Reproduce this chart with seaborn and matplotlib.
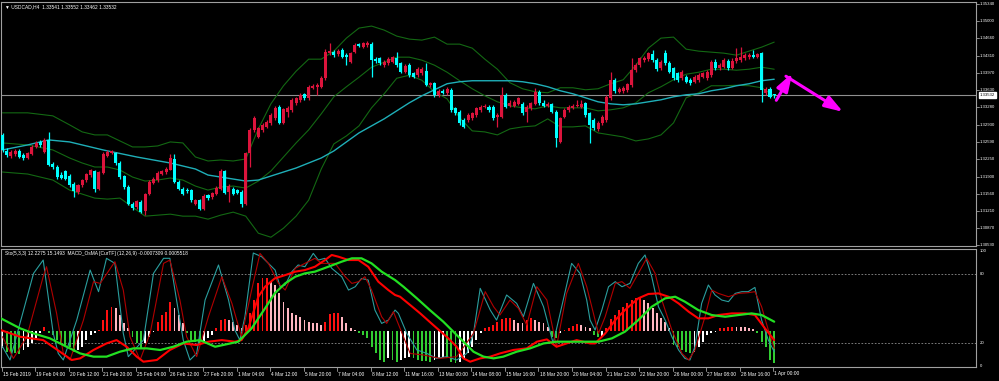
import matplotlib
matplotlib.use("Agg")
import matplotlib.pyplot as plt
import matplotlib.transforms as mtransforms
import numpy as np
import pandas as pd
import seaborn as sns

# ---------------- DATA ----------------
symbol_header = "\u25bc USDCAD,H4  1.33541 1.33552 1.33462 1.33532"
sub_header = "Sto(5,3,3) 12.2275 15.1493  MACD_OsMA [CurTF] (12,26,9) -0.0007309 0.0005518"

opens = [1.3273,1.3241,1.3231,1.3235,1.3241,1.3233,1.3226,1.3235,1.3249,1.3259,1.3239,1.3263,1.3215,1.3210,1.3193,1.3202,1.3191,1.3176,1.3160,1.3173,
         1.3183,1.3193,1.3202,1.3166,1.3198,1.3231,1.3237,1.3237,1.3216,1.3191,1.3170,1.3135,1.3130,1.3140,1.3122,1.3156,1.3178,1.3183,1.3195,1.3200,
         1.3204,1.3224,1.3180,1.3166,1.3164,1.3163,1.3136,1.3144,1.3126,1.3153,1.3150,1.3156,1.3166,1.3202,1.3160,1.3166,1.3164,1.3160,1.3135,1.3236,
         1.3283,1.3269,1.3283,1.3289,1.3296,1.3306,1.3329,1.3297,1.3319,1.3323,1.3336,1.3343,1.3354,1.3346,1.3366,1.3369,1.3369,1.3386,1.3437,1.3439,
         1.3434,1.3442,1.3432,1.3419,1.3439,1.3454,1.3449,1.3452,1.3454,1.3424,1.3426,1.3412,1.3416,1.3419,1.3426,1.3416,1.3399,1.3412,1.3396,1.3392,
         1.3396,1.3401,1.3372,1.3376,1.3353,1.3360,1.3356,1.3362,1.3326,1.3319,1.3303,1.3303,1.3306,1.3313,1.3323,1.3328,1.3329,1.3329,1.3309,1.3309,
         1.3353,1.3331,1.3331,1.3335,1.3335,1.3319,1.3326,1.3335,1.3359,1.3337,1.3331,1.3335,1.3319,1.3259,1.3308,1.3323,1.3326,1.3331,1.3329,1.3336,
         1.3316,1.3303,1.3284,1.3296,1.3303,1.3346,1.3382,1.3359,1.3361,1.3362,1.3372,1.3402,1.3412,1.3422,1.3424,1.3434,1.3422,1.3406,1.3436,1.3417,
         1.3406,1.3396,1.3386,1.3389,1.3382,1.3379,1.3382,1.3389,1.3386,1.3392,1.3419,1.3406,1.3409,1.3421,1.3406,1.3421,1.3422,1.3426,1.3428,1.3432,
         1.3429,1.3437,1.3357,1.3364,1.33541]
highs = [1.3277,1.3246,1.3243,1.3244,1.3244,1.3236,1.3239,1.3253,1.3261,1.3263,1.3266,1.3279,1.3218,1.3213,1.3200,1.3203,1.3196,1.3180,1.3176,1.3186,
         1.3197,1.3206,1.3204,1.3202,1.3239,1.3243,1.3243,1.3239,1.3220,1.3193,1.3173,1.3140,1.3144,1.3143,1.3158,1.3183,1.3190,1.3202,1.3204,1.3210,
         1.3235,1.3235,1.3183,1.3170,1.3168,1.3166,1.3146,1.3146,1.3155,1.3156,1.3160,1.3171,1.3206,1.3204,1.3176,1.3170,1.3166,1.3163,1.3239,1.3286,
         1.3311,1.3289,1.3296,1.3303,1.3316,1.3331,1.3333,1.3326,1.3331,1.3346,1.3349,1.3356,1.3357,1.3372,1.3374,1.3376,1.3390,1.3444,1.3456,1.3442,
         1.3444,1.3446,1.3436,1.3439,1.3456,1.3457,1.3459,1.3461,1.3459,1.3428,1.3429,1.3422,1.3428,1.3430,1.3439,1.3419,1.3414,1.3416,1.3399,1.3408,
         1.3409,1.3416,1.3379,1.3379,1.3364,1.3364,1.3368,1.3366,1.3329,1.3323,1.3306,1.3316,1.3319,1.3329,1.3333,1.3335,1.3333,1.3333,1.3316,1.3369,
         1.3356,1.3343,1.3343,1.3349,1.3339,1.3333,1.3339,1.3366,1.3362,1.3343,1.3339,1.3337,1.3323,1.3309,1.3326,1.3333,1.3335,1.3343,1.3343,1.3339,
         1.3319,1.3306,1.3301,1.3313,1.3353,1.3399,1.3386,1.3368,1.3370,1.3377,1.3426,1.3416,1.3429,1.3430,1.3439,1.3442,1.3426,1.3422,1.3442,1.3420,
         1.3409,1.3399,1.3402,1.3392,1.3386,1.3392,1.3396,1.3399,1.3402,1.3422,1.3424,1.3416,1.3426,1.3424,1.3426,1.3446,1.3449,1.3436,1.3436,1.3442,
         1.3437,1.3439,1.3368,1.3368,1.33552]
lows = [1.3239,1.3229,1.3226,1.3231,1.3226,1.3223,1.3224,1.3233,1.3246,1.3249,1.3237,1.3211,1.3206,1.3186,1.3186,1.3183,1.3170,1.3150,1.3156,1.3170,
        1.3180,1.3190,1.3160,1.3163,1.3195,1.3228,1.3235,1.3213,1.3186,1.3166,1.3133,1.3123,1.3126,1.3118,1.3113,1.3153,1.3175,1.3180,1.3193,1.3196,
        1.3203,1.3178,1.3163,1.3153,1.3158,1.3140,1.3133,1.3124,1.3124,1.3144,1.3146,1.3153,1.3164,1.3155,1.3140,1.3153,1.3155,1.3130,1.3133,1.3210,
        1.3279,1.3266,1.3279,1.3286,1.3293,1.3303,1.3295,1.3295,1.3308,1.3319,1.3333,1.3339,1.3343,1.3343,1.3364,1.3353,1.3366,1.3382,1.3432,1.3429,
        1.3430,1.3426,1.3412,1.3416,1.3436,1.3448,1.3446,1.3449,1.3389,1.3417,1.3412,1.3409,1.3412,1.3416,1.3409,1.3396,1.3396,1.3389,1.3386,1.3389,
        1.3392,1.3370,1.3369,1.3349,1.3349,1.3354,1.3353,1.3319,1.3313,1.3293,1.3286,1.3299,1.3303,1.3309,1.3319,1.3326,1.3319,1.3303,1.3289,1.3306,
        1.3326,1.3328,1.3328,1.3333,1.3313,1.3299,1.3323,1.3333,1.3333,1.3328,1.3328,1.3316,1.3249,1.3256,1.3306,1.3319,1.3324,1.3328,1.3326,1.3309,
        1.3256,1.3283,1.3281,1.3293,1.3299,1.3343,1.3357,1.3356,1.3357,1.3359,1.3369,1.3399,1.3409,1.3419,1.3421,1.3419,1.3401,1.3402,1.3412,1.3396,
        1.3382,1.3379,1.3382,1.3376,1.3372,1.3376,1.3379,1.3386,1.3382,1.3389,1.3402,1.3402,1.3406,1.3402,1.3404,1.3417,1.3419,1.3422,1.3424,1.3426,
        1.3426,1.3339,1.3353,1.3346,1.33462]
closes = [1.3243,1.3233,1.3239,1.3241,1.3229,1.3226,1.3236,1.3249,1.3257,1.3253,1.3263,1.3213,1.3210,1.3190,1.3188,1.3186,1.3173,1.3162,1.3173,1.3183,
          1.3195,1.3203,1.3166,1.3200,1.3235,1.3239,1.3241,1.3216,1.3190,1.3170,1.3135,1.3128,1.3141,1.3120,1.3155,1.3180,1.3186,1.3198,1.3202,1.3206,
          1.3226,1.3180,1.3166,1.3156,1.3162,1.3143,1.3144,1.3126,1.3151,1.3148,1.3158,1.3168,1.3202,1.3158,1.3172,1.3156,1.3158,1.3135,1.3237,1.3283,
          1.3306,1.3286,1.3293,1.3299,1.3313,1.3326,1.3297,1.3324,1.3326,1.3343,1.3346,1.3353,1.3346,1.3369,1.3370,1.3372,1.3386,1.3439,1.3440,1.3432,
          1.3441,1.3429,1.3429,1.3436,1.3452,1.3450,1.3456,1.3457,1.3422,1.3421,1.3416,1.3419,1.3424,1.3428,1.3412,1.3399,1.3410,1.3392,1.3389,1.3404,
          1.3404,1.3372,1.3376,1.3353,1.3361,1.3357,1.3364,1.3323,1.3316,1.3296,1.3289,1.3313,1.3316,1.3326,1.3329,1.3331,1.3323,1.3306,1.3313,1.3353,
          1.3329,1.3336,1.3339,1.3346,1.3316,1.3329,1.3336,1.3359,1.3336,1.3331,1.3335,1.3319,1.3266,1.3306,1.3323,1.3329,1.3331,1.3333,1.3335,1.3313,
          1.3293,1.3286,1.3297,1.3309,1.3349,1.3382,1.3361,1.3364,1.3366,1.3374,1.3402,1.3412,1.3426,1.3426,1.3436,1.3422,1.3404,1.3419,1.3416,1.3399,
          1.3386,1.3382,1.3399,1.3379,1.3376,1.3389,1.3392,1.3396,1.3399,1.3419,1.3406,1.3412,1.3422,1.3406,1.3421,1.3426,1.3429,1.3432,1.3432,1.3428,
          1.3434,1.3362,1.3364,1.3349,1.33532]
bid_price = 1.33532

# Bollinger bands (20,2) read at sampled bars
band_bars = [0, 6, 12, 16] + list(range(19, 185, 3))
bb_upper = [1.3317,1.3317,1.3311,1.3293,1.3279,1.3273,1.3273,1.3261,1.3249,1.3249,1.3251,1.3259,1.3257,1.3229,1.3221,1.3223,1.3221,1.3225,1.3285,1.3335,
            1.3371,1.3400,1.3424,1.3424,1.3440,1.3466,1.3486,1.3490,1.3482,1.3470,1.3464,1.3462,1.3468,1.3454,1.3454,1.3446,1.3424,1.3404,1.3377,1.3365,
            1.3359,1.3357,1.3367,1.3367,1.3363,1.3365,1.3375,1.3383,1.3412,1.3446,1.3466,1.3468,1.3444,1.3440,1.3438,1.3436,1.3432,1.3440,1.3448,1.3458]
bb_middle = [1.3257,1.3253,1.3243,1.3227,1.3217,1.3209,1.3209,1.3203,1.3189,1.3181,1.3183,1.3187,1.3183,1.3171,1.3163,1.3169,1.3171,1.3167,1.3181,1.3201,
             1.3229,1.3257,1.3283,1.3315,1.3349,1.3369,1.3388,1.3408,1.3418,1.3428,1.3428,1.3422,1.3412,1.3398,1.3381,1.3365,1.3351,1.3339,1.3331,1.3327,
             1.3325,1.3331,1.3327,1.3327,1.3327,1.3321,1.3323,1.3327,1.3337,1.3357,1.3369,1.3383,1.3394,1.3398,1.3404,1.3404,1.3402,1.3404,1.3408,1.3404]
bb_lower = [1.3199,1.3195,1.3183,1.3163,1.3155,1.3147,1.3145,1.3147,1.3129,1.3111,1.3113,1.3115,1.3111,1.3111,1.3105,1.3113,1.3119,1.3111,1.3077,1.3069,
            1.3087,1.3111,1.3143,1.3205,1.3255,1.3271,1.3291,1.3327,1.3355,1.3386,1.3392,1.3382,1.3359,1.3345,1.3307,1.3281,1.3279,1.3273,1.3285,1.3289,
            1.3291,1.3305,1.3289,1.3289,1.3291,1.3277,1.3273,1.3269,1.3261,1.3265,1.3273,1.3297,1.3347,1.3357,1.3371,1.3371,1.3372,1.3371,1.3367,1.3351]
# Moving average (cyan) read at sampled bars
ma_bars = [0, 6, 11, 16, 24, 32, 40, 46] + list(range(49, 185, 3))
ma_line = [1.3243,1.3253,1.3263,1.3259,1.3243,1.3229,1.3217,1.3205,
           1.3193,1.3189,1.3185,1.3181,1.3183,1.3191,1.3199,1.3207,1.3217,1.3227,1.3241,1.3259,1.3277,1.3291,1.3305,1.3321,1.3337,1.3351,1.3363,1.3375,
           1.3379,1.3381,1.3381,1.3381,1.3381,1.3379,1.3375,1.3369,1.3361,1.3355,1.3347,1.3339,1.3335,1.3333,1.3335,1.3339,1.3343,1.3349,1.3353,1.3355,
           1.3361,1.3365,1.3371,1.3375,1.3381,1.3384]

# Projection arrows (bar, price)
arrow_up_x = [184.5, 188.3]
arrow_up_y = [1.3342, 1.3396]
arrow_dn_x = [186.8, 200.4]
arrow_dn_y = [1.3390, 1.3319]

# Lower window (values as displayed on its 0..100 scale)
sto_main_x = [0,1.8,7.4,9.7,12.1,13.3,14.5,17.7,20.9,22.9,24.8,26.8,28.8,30,33.6,36,38.4,39.9,41.5,43.1,44.7,46.3,48.3,51.5,53.9,55.4,56.6,57.8,59.8,61.8,
              63.4,65,66.2,67.4,69,70.5,72.1,74.1,75.3,76.9,78.5,80.9,82.5,84.1,85.6,87.2,88.8,90.4,92,93.6,94.4,96.4,98.8,101.2,103.5,105.9,108.3,110.7,112.3,113.9,
              116.3,117.8,120.2,122.6,124.2,126.6,129,131.3,133.7,135.7,137.7,139.3,140.1,141.3,142.9,144.5,146.1,147.7,149.6,151.6,153.2,154.8,156.4,158,159.6,161.2,162.7,163.9,165.1,166.7,
              168.3,169.9,171.5,173.1,174.7,176.3,177.8,179.4,181,182.6,184]
sto_main = [16.5,5,80.3,91.9,28.1,10.7,5,39.7,83.2,64.4,93.4,89,28.1,7.9,22.3,80.3,93.4,93.4,57.1,22.3,5,10.7,57.1,87.6,57.1,31,22.3,42.6,98,94.8,
            89,83.2,68.7,70.2,81.8,87.6,86.1,97.7,91.9,93.4,84.7,77.4,65.8,68.7,75.9,74.5,48.4,36.8,39.7,48.4,45.5,28.1,13.7,10.7,6.4,7.9,5,10.7,28.1,67.3,
            48.4,39.7,61.5,54.2,42.6,71.6,51.3,19.4,57.1,89,80.3,57.1,39.7,31,48.4,68.7,73.1,68.7,71.6,89,96.3,77.4,51.3,39.7,25.2,13.7,6.4,5,16.5,54.2,
            70.2,61.5,57.1,55.7,62.9,64.4,64.4,68.1,39.7,22.3,12.2]
sto_sig_x = [0,2.6,5.8,9.7,10.5,12.9,14.5,16.1,19.3,21.7,23.3,26.8,28.8,30.4,32.8,35.2,38.4,39.9,42.3,43.9,46.3,49.1,52.3,54.7,57,59.4,61.4,63.4,65.8,67.4,
             69.8,72.1,74.5,76.1,79.3,81.7,83.3,84.9,86.4,88,90.4,91.6,93.2,94,97.2,100.4,104.3,108.3,112.3,115.1,117.1,118.6,121,123,125,127.4,129.8,132.1,134.5,137.3,
             139.3,140.5,142.1,143.7,146.1,147.7,149.6,151.6,153.6,155.6,157.2,159.6,162,163.6,165.1,167.5,169.1,170.7,173.1,175.5,177.8,179.4,181,182.6,184]
sto_sig = [25.2,6.4,25.2,77.4,86.1,45.5,10.7,5,39.7,73.1,71.6,90.5,65.8,25.2,5,28.1,89,91.9,57.1,25.2,7.9,42.6,77.4,54.2,25.2,65.8,97.7,89,71.6,65.8,
           84.7,89,93.4,89,89,77.4,71.6,73.1,77.4,65.8,42.6,36.8,47,39.7,10.7,9.3,6.4,7.9,28.1,64.4,51.3,44.1,57.1,49.9,35.4,68.7,57.1,16.5,62.9,89,
           68.7,51.3,28.1,42.6,71.6,73.1,67.3,80.3,93.4,80.3,57.1,31,10.7,5,13.7,42.6,65.8,62.9,60,62.9,63.5,64.4,51.3,31,15.1]
macd_green_x = [-0.4,4.2,7.4,11.3,15.3,18.5,21.7,24.8,28,31.2,34.4,37.6,40.7,43.9,47.1,50.7,56.2,59.4,62.6,64.9,67.4,69.8,72.1,74.5,77.7,80.9,83.3,85.6,88,90.4,
                93.6,95.6,98.8,101.9,105.1,107.5,109.9,112.3,114.7,117.1,119.4,122.6,125.8,129,132.1,135.3,140.1,142.1,145.3,148.4,151.6,154.8,158,160.4,162.7,165.9,169.1,172.3,175.5,178.6,
                181,184]
macd_green = [41.2,32.5,28.1,23.8,16.5,10.7,7.9,7.9,12.2,15.1,15.1,13.7,16.5,20.9,22.3,16.5,20.9,32.5,49.9,62.9,71.6,77.4,80.3,81.8,86.1,90.5,93.4,93.4,89,81.8,
              74.5,68.7,58.6,48.4,38.3,29.6,20.9,12.2,7.9,6.4,7.9,12.2,15.1,19.4,20.9,20.9,20.9,20.9,23.8,29.6,39.7,51.3,58.6,60,55.7,48.4,44.1,42.6,44.1,45.5,
              44.1,38.3]
macd_red_x = [-0.4,4.2,9.7,13.7,16.5,18.5,21.7,24.8,27.2,29.6,32,33.6,36.8,39.9,43.1,46.3,49.1,52.3,55.4,57,58.6,61,62.6,64.9,67.4,69.8,72.1,74.5,76.9,78.5,
              80.1,82.5,84.9,87.2,89.6,92,93.6,94.8,97.2,99.6,102.7,105.9,108.3,109.9,111.5,113.9,116.3,118.6,121.8,125,127.4,129.8,132.1,134.5,136.9,140.1,141.3,143.7,146.1,148.4,
              151.6,154,156.4,158.8,161.2,163.6,165.9,168.3,170.7,173.9,177.1,179.4,181.8,184]
macd_red = [31,25.2,22.3,12.2,5,6.4,13.7,19.4,22.3,16.5,7.9,3.5,5,13.7,19.4,18,20.9,22.3,20.9,22.3,32.5,60,68.7,75.9,78.8,81.8,83.2,86.1,91.9,96.3,
            94.8,91.9,91.9,86.1,73.1,65.8,61.5,60,52.8,45.5,35.4,25.2,16.5,6.4,3.5,6.4,7.9,10.7,13.7,15.1,20.9,22.9,16.5,19.4,22.3,19.4,19.4,28.1,39.7,48.4,
            58.6,62.4,62.9,60,54.2,47,41.2,41.2,44.1,45.5,45.5,44.1,32.5,22.3]
osma = [-15.1,-18.0,-18.8,-19.4,-20.0,-16.5,-13.6,-10.7,-6.4,-2.0,3.8,-2.0,-3.5,-7.8,-10.7,-12.2,-13.6,-18.0,-16.5,-13.6,
        -7.8,-3.5,-2.0,0.9,9.6,18.3,21.2,19.7,13.9,6.7,2.3,-4.9,-10.7,-15.1,-10.7,-4.9,-0.6,8.1,13.9,16.8,
        25.5,19.7,13.9,6.7,-2.0,-7.8,-9.3,-12.2,-9.3,-6.4,-3.5,2.3,9.6,10.1,9.6,8.1,5.2,2.3,5.2,15.4,
        27.0,42.0,45.8,46.4,42.9,40.0,32.8,25.5,19.7,15.9,13.9,11.9,9.6,8.1,7.2,6.7,5.2,8.1,14.5,15.5,
        15.9,12.5,6.7,2.3,0.9,-2.0,-3.5,-6.4,-13.6,-19.4,-25.2,-26.7,-23.8,-25.2,-26.7,-25.2,-23.8,-22.3,-23.8,-25.2,
        -26.0,-26.5,-26.9,-25.2,-23.8,-22.3,-23.8,-26.7,-28.1,-26.7,-23.8,-19.4,-13.6,-7.8,-2.0,2.3,3.8,5.2,8.1,10.1,
        11.0,11.6,9.6,7.2,6.7,9.6,11.0,9.6,8.1,6.7,3.8,-4.9,-6.4,-2.0,0.9,2.3,4.3,6.1,5.2,3.8,
        2.3,-3.5,-4.9,-4.3,2.3,10.1,13.9,18.3,21.2,24.1,27.0,28.4,29.3,27.0,24.1,19.7,15.4,11.0,8.1,2.3,
        -12.2,-13.6,-16.5,-18.0,-19.4,-18.0,-13.6,-9.3,-3.5,-2.0,-0.6,2.3,2.6,3.2,3.8,3.6,3.4,3.2,2.3,1.4,
        -2.0,-9.3,-13.6,-25.2,-27.5]

price_ticks = [1.35340,1.35000,1.34660,1.34310,1.33970,1.33630,1.33280,1.32930,1.32590,1.32250,1.31900,1.31560,1.31210,1.30870,1.30530]
sub_ticks = [100, 80, 20, 0]
time_labels = ["15 Feb 2019","19 Feb 04:00","20 Feb 12:00","21 Feb 20:00","25 Feb 04:00","26 Feb 12:00","27 Feb 20:00",
               "1 Mar 04:00","4 Mar 12:00","5 Mar 20:00","7 Mar 04:00","8 Mar 12:00","11 Mar 16:00","13 Mar 00:00",
               "14 Mar 08:00","15 Mar 16:00","18 Mar 20:00","20 Mar 04:00","21 Mar 12:00","22 Mar 20:00","26 Mar 00:00",
               "27 Mar 08:00","28 Mar 16:00","1 Apr 00:00"]
time_label_bars = [8 * i for i in range(len(time_labels))]

# ---------------- STYLE / LAYOUT ----------------
sns.set_theme(style="dark", rc={"axes.facecolor": "black", "figure.facecolor": "black",
                                "axes.grid": False})
plt.rcParams["font.family"] = ["Liberation Sans", "DejaVu Sans"]

W, H = 999, 381
fig = plt.figure(figsize=(W / 100, H / 100), dpi=100)
fig.patch.set_facecolor("black")

def rect(l, t, r, b):
    return [l / W, 1 - b / H, (r - l) / W, (b - t) / H]

ax = fig.add_axes(rect(1, 2, 976, 246))
ax2 = fig.add_axes(rect(1, 249, 976, 367))
BAR_PX = 4.194
x0 = -1.5 / BAR_PX
x1 = x0 + 975 / BAR_PX
for a in (ax, ax2):
    a.set_facecolor("black")
    a.set_xlim(x0, x1)
    a.set_xticks([]); a.set_yticks([])
    for s in a.spines.values():
        s.set_color("#a0a0a0"); s.set_linewidth(0.8)
ax.set_ylim(1.30515, 1.35380)
ax2.set_ylim(-1.1, 101.5)

BULL = "#DC143C"
BEAR = "#00FFFF"
FS = 3.5
FS_AX = 3.1

# ---------------- MAIN PANEL ----------------
df = pd.DataFrame({"o": opens, "h": highs, "l": lows, "c": closes})
df["bar"] = np.arange(len(df))
df["up"] = df["c"] >= df["o"]
cols = np.where(df["up"], BULL, BEAR)
ax.vlines(df["bar"], df["l"], df["h"], colors=cols, linewidth=0.9, zorder=3)
body_lo = np.minimum(df["o"], df["c"])
body_h = np.maximum(np.abs(df["c"] - df["o"]), 0.00003)
ax.bar(df["bar"], body_h, bottom=body_lo, width=0.72, color=cols, linewidth=0, zorder=4)

for vals in (bb_upper, bb_middle, bb_lower):
    sns.lineplot(x=band_bars, y=vals, ax=ax, color="#136813", linewidth=0.8, estimator=None, sort=False,
                 legend=False, zorder=2)
sns.lineplot(x=ma_bars, y=ma_line, ax=ax, color="#1FAFB8", linewidth=1.0, estimator=None, sort=False,
             legend=False, zorder=2)

ax.axhline(bid_price, color="#909090", linewidth=0.8, zorder=1)

for xs, ys in ((arrow_up_x, arrow_up_y), (arrow_dn_x, arrow_dn_y)):
    ax.annotate("", xy=(xs[1], ys[1]), xytext=(xs[0], ys[0]),
                arrowprops=dict(arrowstyle="-|>,head_length=0.9,head_width=0.3", color="#FF00FF", lw=2.2,
                                shrinkA=0, shrinkB=0), zorder=6)

ax.set_ylabel(""); ax.set_xlabel("")
fig.text(5 / W, 1 - 6.5 / H, symbol_header, color="white", fontsize=FS, va="center", ha="left")

trans = mtransforms.blended_transform_factory(ax.transAxes, ax.transData)
for p in price_ticks:
    ax.plot([1.0, 1.0 + 3 / 975], [p, p], transform=trans, color="#a0a0a0", lw=0.6, clip_on=False)
    ax.text(1.0 + 4 / 975, p, f"{p:.5f}", transform=trans, color="white", fontsize=FS_AX,
            va="center", ha="left", clip_on=False)
ax.text(1.0 + 4 / 975, bid_price, f"{bid_price:.5f}", transform=trans, color="black", fontsize=FS_AX,
        va="center", ha="left", clip_on=False,
        bbox=dict(boxstyle="square,pad=0.2", facecolor="white", edgecolor="white"), zorder=10)

# ---------------- LOWER PANEL ----------------
HIST_ZERO = 30.2
osma_arr = np.array(osma)
prev = np.concatenate([[osma_arr[0]], osma_arr[:-1]])
hist_cols = []
for v, pv in zip(osma_arr, prev):
    if v >= 0:
        hist_cols.append("#FF1010" if v >= pv else "#FFB6C1")
    else:
        hist_cols.append("#32CD32" if v < pv else "#FFFFFF")
ax2.bar(np.arange(len(osma_arr)), osma_arr, bottom=HIST_ZERO, width=0.45, color=hist_cols,
        linewidth=0, zorder=2)

for lvl in (80, 20):
    ax2.axhline(lvl, color="#909090", linewidth=0.6, linestyle=(0, (2, 2)), zorder=1)

sns.lineplot(x=sto_main_x, y=sto_main, ax=ax2, color="#2A9E9E", linewidth=0.8, estimator=None,
             sort=False, legend=False, zorder=3)
sns.lineplot(x=sto_sig_x, y=sto_sig, ax=ax2, color="#B00000", linewidth=0.8, estimator=None,
             sort=False, legend=False, zorder=3)
sns.lineplot(x=macd_red_x, y=macd_red, ax=ax2, color="#FF0000", linewidth=1.5, estimator=None,
             sort=False, legend=False, zorder=4)
sns.lineplot(x=macd_green_x, y=macd_green, ax=ax2, color="#22E022", linewidth=1.6, estimator=None,
             sort=False, legend=False, zorder=5)
ax2.set_ylabel(""); ax2.set_xlabel("")

ax2.text(4 / 975, 1 - 4 / 118, sub_header, transform=ax2.transAxes, color="white", fontsize=FS,
         va="center", ha="left")
trans2 = mtransforms.blended_transform_factory(ax2.transAxes, ax2.transData)
for v in sub_ticks:
    ax2.text(1.0 + 4 / 975, v, f"{v}", transform=trans2, color="white", fontsize=FS_AX,
             va="center", ha="left", clip_on=False)

# time axis
transx = mtransforms.blended_transform_factory(ax2.transData, fig.transFigure)
for b, lab in zip(time_label_bars, time_labels):
    xb = b - 0.2
    fig.lines.append(plt.Line2D([xb, xb], [1 - 367 / H, 1 - 371 / H], transform=transx,
                                color="#a0a0a0", lw=0.6))
    t = fig.text(0, 1 - 374 / H, lab, transform=transx, color="white", fontsize=FS, va="center", ha="left")
    t.set_x(xb + 0.25)

fig.savefig("out.png", dpi=100, facecolor="black")
